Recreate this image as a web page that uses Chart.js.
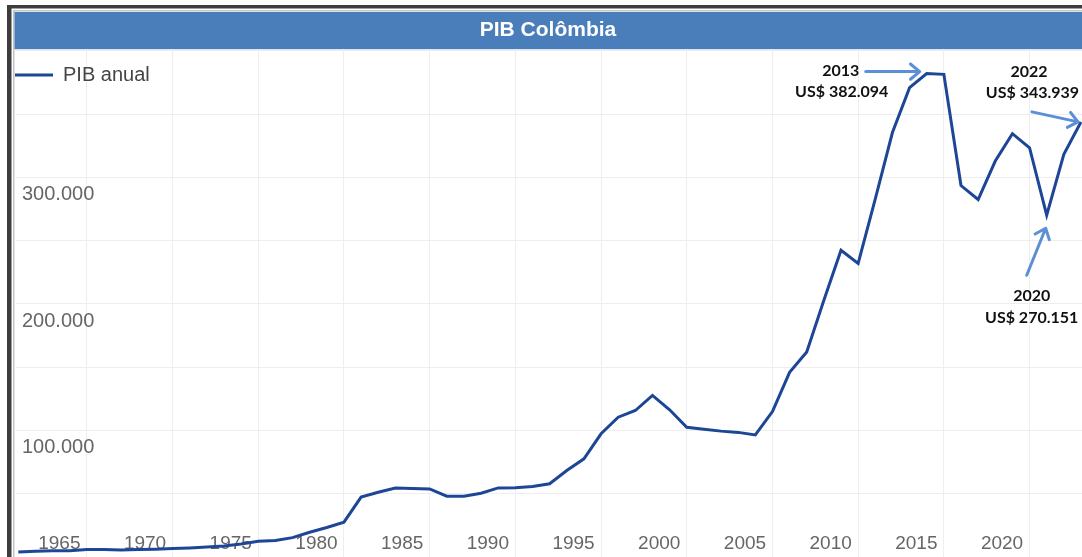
<!DOCTYPE html>
<html lang="pt">
<head>
<meta charset="utf-8">
<title>PIB Colômbia</title>
<script src="https://cdn.jsdelivr.net/npm/chart.js@4/dist/chart.umd.min.js"></script>
<style>
  html, body { margin: 0; padding: 0; background: #fff; overflow: hidden; }
  #wrap { position: relative; width: 1082px; height: 557px; }
</style>
</head>
<body>
<div id="wrap"><canvas id="pib"></canvas></div>
<script>
// Annual GDP of Colombia, current US$ millions
const years = [
  1960, 1961, 1962, 1963, 1964, 1965, 1966, 1967, 1968, 1969,
  1970, 1971, 1972, 1973, 1974, 1975, 1976, 1977, 1978, 1979,
  1980, 1981, 1982, 1983, 1984, 1985, 1986, 1987, 1988, 1989,
  1990, 1991, 1992, 1993, 1994, 1995, 1996, 1997, 1998, 1999,
  2000, 2001, 2002, 2003, 2004, 2005, 2006, 2007, 2008, 2009,
  2010, 2011, 2012, 2013, 2014, 2015, 2016, 2017, 2018, 2019,
  2020, 2021, 2022
];
const gdpMillions = [
  4040, 4550, 4950, 4910, 5880, 5890, 5590, 5880, 6170, 6690,
  7200, 7820, 8670, 10320, 12430, 13100, 15300, 19600, 23300, 27500,
  47300, 51200, 54500, 54200, 53800, 48100, 48100, 50400, 54600, 54800,
  55700, 57900, 68400, 77600, 97400, 110500, 115800, 127700, 116400, 102600,
  101000, 99500, 98500, 96500, 115000, 146000, 162000, 203000, 242500, 232000,
  283000, 335500, 371000, 382094, 381500, 293600, 282600, 313000, 334600, 323500,
  270151, 318300, 343939
];

// Axis ticks
const xGridYears = [1964, 1969, 1974, 1979, 1984, 1989, 1994, 1999, 2004, 2009, 2014, 2019];
const xTickLabels = ['1965', '1970', '1975', '1980', '1985', '1990', '1995', '2000', '2005', '2010', '2015', '2020'];
const yGridValues = [0, 50000, 100000, 150000, 200000, 250000, 300000, 350000, 400000];
const yLabelValues = [100000, 200000, 300000];
const yTickLabels = ['100.000', '200.000', '300.000'];

// Highlighted years and their callouts
const noteYears = [2013, 2022, 2020];
const noteTitles = ['2013', '2022', '2020'];
const noteValues = ['US$ 382.094', 'US$ 343.939', 'US$ 270.151'];

Chart.defaults.font.family = "'Liberation Sans', Arial, sans-serif";

// Page frame and the blue title band
const framePlugin = {
  id: 'frame',
  beforeDraw(chart) {
    const { ctx, width, height, titleBlock, chartArea } = chart;
    ctx.save();
    ctx.fillStyle = '#ffffff';
    ctx.fillRect(0, 0, width, height);
    ctx.fillStyle = '#3d3d3d';
    ctx.fillRect(7, 5, width - 7, 3.5);
    ctx.fillRect(7, 5, 4.5, height - 5);
    ctx.fillStyle = '#c4c4c4';
    ctx.fillRect(13, 10, width - 13, 1.5);
    ctx.fillRect(13, 10, 1.5, height - 10);
    ctx.fillStyle = '#4a7ebb';
    ctx.fillRect(chartArea.left + 0.5, titleBlock.top, width - chartArea.left, titleBlock.bottom - titleBlock.top);
    ctx.restore();
  }
};

function drawArrow(ctx, x0, y0, x1, y1) {
  const a = Math.atan2(y1 - y0, x1 - x0);
  const head = 12;
  const spread = Math.PI * 0.22;
  ctx.beginPath();
  ctx.moveTo(x0, y0);
  ctx.lineTo(x1, y1);
  ctx.moveTo(x1 - head * Math.cos(a - spread), y1 - head * Math.sin(a - spread));
  ctx.lineTo(x1, y1);
  ctx.lineTo(x1 - head * Math.cos(a + spread), y1 - head * Math.sin(a + spread));
  ctx.stroke();
}

// Callouts anchored on the highlighted data points
const notesPlugin = {
  id: 'notes',
  afterDatasetsDraw(chart) {
    const { ctx, scales: { x, y } } = chart;
    // offsets (px) of arrow tail, arrow tip, title line and value line from the point
    const layout = [
      { tail: [-61, -2], tip: [-7, -2], title: [-86, -3], value: [-85, 18] },
      { tail: [-49, -10], tip: [-3, 0], title: [-52, -50], value: [-48.5, -29] },
      { tail: [-20, 60], tip: [-1, 13], title: [-15, 81], value: [-15, 103] }
    ];
    ctx.save();
    noteYears.forEach((yr, i) => {
      const idx = years.indexOf(yr);
      const px = x.getPixelForValue(yr);
      const py = y.getPixelForValue(gdpMillions[idx]);
      const L = layout[i];
      ctx.strokeStyle = '#5b8fd6';
      ctx.lineWidth = 3;
      ctx.lineCap = 'round';
      ctx.lineJoin = 'round';
      drawArrow(ctx, px + L.tail[0], py + L.tail[1], px + L.tip[0], py + L.tip[1]);
      ctx.fillStyle = '#111111';
      ctx.font = "bold 16px Lato, 'Liberation Sans', sans-serif";
      ctx.textAlign = 'center';
      ctx.textBaseline = 'middle';
      ctx.fillText(noteTitles[i], px + L.title[0], py + L.title[1]);
      ctx.fillText(noteValues[i], px + L.value[0], py + L.value[1]);
    });
    ctx.restore();
  }
};

new Chart(document.getElementById('pib'), {
  type: 'line',
  data: {
    datasets: [{
      label: 'PIB anual',
      data: years.map((yr, i) => ({ x: yr, y: gdpMillions[i] })),
      borderColor: '#1d4696',
      backgroundColor: '#1d4696',
      borderWidth: 3,
      pointRadius: 0,
      pointHoverRadius: 0,
      tension: 0
    }]
  },
  options: {
    responsive: true,
    maintainAspectRatio: false,
    animation: false,
    events: [],
    layout: { padding: { left: 14, top: 12, right: 0, bottom: 0 } },
    scales: {
      x: {
        type: 'linear',
        min: 1959.75,
        max: 2022.06,
        afterBuildTicks: (s) => { s.ticks = xGridYears.map(v => ({ value: v })); },
        afterFit: (s) => { s.height = 0; s.paddingLeft = 0; s.paddingRight = 0; },
        grid: { color: '#eeeeee', lineWidth: 1, drawTicks: false },
        border: { display: false },
        ticks: {
          mirror: true,
          padding: 2,
          labelOffset: -27.5,
          autoSkip: false,
          maxRotation: 0,
          color: '#666666',
          font: { size: 19 },
          callback: (v, i) => xTickLabels[i]
        }
      },
      y: {
        min: 0,
        max: 401400,
        afterBuildTicks: (s) => { s.ticks = yGridValues.map(v => ({ value: v })); },
        afterFit: (s) => { s.width = 0; s.paddingTop = 0; s.paddingBottom = 0; },
        grid: { color: '#eeeeee', lineWidth: 1, drawTicks: false },
        border: { display: false },
        ticks: {
          mirror: true,
          padding: 8,
          labelOffset: 17,
          color: '#666666',
          font: { size: 20 },
          callback: (v) => {
            const k = yLabelValues.indexOf(v);
            return k >= 0 ? yTickLabels[k] : '';
          }
        }
      }
    },
    plugins: {
      title: {
        display: true,
        text: 'PIB Colômbia',
        color: '#ffffff',
        font: { size: 21, weight: 'bold', lineHeight: 1.2 },
        padding: { top: 6, bottom: 6 }
      },
      legend: {
        position: 'chartArea',
        align: 'start',
        title: { display: true, text: '', padding: { top: 63, bottom: 0 }, font: { size: 1, lineHeight: 1 } },
        labels: {
          usePointStyle: true,
          pointStyle: 'line',
          pointStyleWidth: 38,
          padding: 1,
          color: '#444444',
          font: { size: 20 }
        }
      },
      tooltip: { enabled: false }
    }
  },
  plugins: [framePlugin, notesPlugin]
});
</script>
</body>
</html>
